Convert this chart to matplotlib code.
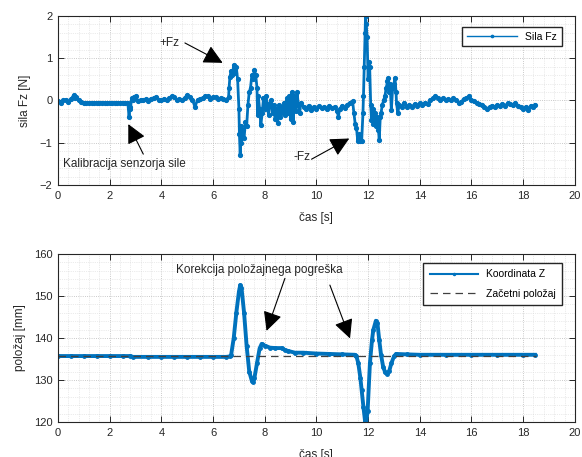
import matplotlib
matplotlib.use('Agg')
import matplotlib.pyplot as plt
import matplotlib.ticker as ticker

plt.rcParams['font.family'] = ['Liberation Sans', 'DejaVu Sans']

# sila Fz [N]
t_fz = [0.0, 0.1, 0.2, 0.3, 0.4, 0.5, 0.6, 0.65, 0.7, 0.8, 0.9, 1.0,
        1.1, 1.2, 1.3, 1.4, 1.5, 1.6, 1.7, 1.8, 1.9, 2.0, 2.1, 2.2, 2.3, 2.4, 2.5, 2.6, 2.7,
        2.75, 2.78, 2.8, 2.85, 2.9, 2.95, 3.0, 3.1, 3.2, 3.3, 3.4, 3.5, 3.6, 3.7, 3.8, 3.9,
        4.0, 4.1, 4.2, 4.3, 4.4, 4.5, 4.6, 4.7, 4.8, 4.9, 5.0, 5.1, 5.2, 5.3, 5.4, 5.5,
        5.6, 5.7, 5.8, 5.9, 6.0, 6.1, 6.2, 6.3, 6.4, 6.5, 6.6,
        6.62, 6.65, 6.7, 6.75, 6.8, 6.85, 6.9, 6.95, 7.0, 7.02, 7.05, 7.08, 7.1, 7.15, 7.2,
        7.25, 7.3, 7.35, 7.4, 7.45, 7.5, 7.55, 7.6, 7.65, 7.7, 7.72, 7.75, 7.8, 7.85, 7.9,
        7.95, 8.0, 8.05, 8.1, 8.15, 8.2, 8.25, 8.3, 8.35, 8.4, 8.45, 8.5, 8.55, 8.6, 8.65,
        8.7, 8.75, 8.8, 8.85, 8.9, 8.95, 9.0, 9.05, 9.1, 9.15, 9.2, 9.25, 9.3, 9.35, 9.4,
        9.5, 9.6, 9.7, 9.8, 9.9, 10.0, 10.1, 10.2, 10.3, 10.4, 10.5, 10.6, 10.7, 10.8,
        10.85, 10.9, 11.0, 11.1, 11.2, 11.3, 11.4, 11.45, 11.5, 11.55, 11.6, 11.65, 11.7,
        11.75, 11.8, 11.82, 11.85, 11.88, 11.9, 11.93, 11.96, 12.0, 12.03, 12.06, 12.1,
        12.13, 12.17, 12.2, 12.25, 12.3, 12.35, 12.4, 12.43, 12.47, 12.5, 12.55, 12.6,
        12.65, 12.7, 12.75, 12.78, 12.82, 12.85, 12.9, 12.95, 13.0, 13.04, 13.08, 13.1,
        13.15, 13.2, 13.3, 13.4, 13.5, 13.6, 13.7, 13.8, 13.9, 14.0, 14.1, 14.2, 14.3,
        14.4, 14.5, 14.6, 14.7, 14.8, 14.9, 15.0, 15.1, 15.2, 15.3, 15.4, 15.5, 15.6,
        15.7, 15.8, 15.9, 16.0, 16.1, 16.2, 16.3, 16.4, 16.5, 16.6, 16.7, 16.8, 16.9,
        17.0, 17.1, 17.2, 17.3, 17.4, 17.5, 17.6, 17.7, 17.8, 17.9, 18.0, 18.1, 18.2,
        18.3, 18.4, 18.45]
fz = [-0.02, -0.06, 0.0, 0.02, -0.04, 0.03, 0.12, 0.06, 0.08, 0.0, -0.03, -0.05,
      -0.05, -0.05, -0.05, -0.05, -0.05, -0.05, -0.05, -0.05, -0.05, -0.05, -0.05, -0.05,
      -0.05, -0.05, -0.05, -0.05, -0.05,
      -0.4, -0.15, -0.2, 0.05, 0.0, 0.08, 0.1, -0.02, 0.02, 0.0, 0.03, -0.01, 0.04, 0.06,
      0.07, 0.02, 0.0, 0.04, 0.0, 0.05, 0.1, 0.08, 0.0, 0.03, 0.0, 0.06, 0.13, 0.08, 0.02,
      -0.15, 0.02, 0.04, 0.06, 0.1, 0.1, 0.04, 0.08, 0.07, 0.03, 0.06, 0.04, 0.02, 0.07,
      0.3, 0.55, 0.7, 0.6, 0.84, 0.65, 0.78, 0.5, -0.2, -0.8, -1.29, -0.6, -1.0, -0.7, -0.9,
      -0.5, -0.6, -0.1, 0.2, 0.3, 0.6, 0.5, 0.72, 0.6, 0.3, -0.35, 0.1, -0.2, -0.58, -0.3,
      0.05, -0.2, 0.1, -0.15, -0.35, -0.05, 0.0, -0.3, -0.1, -0.45, -0.2, -0.54, -0.1,
      -0.4, -0.15, -0.3, -0.05, -0.35, 0.05, -0.3, 0.1, -0.45, 0.2, -0.5, 0.1, -0.25, 0.2,
      -0.1, -0.3, -0.05, -0.15, -0.2, -0.12, -0.22, -0.15, -0.2, -0.13, -0.18, -0.15,
      -0.2, -0.12, -0.18, -0.15, -0.25, -0.38, -0.2, -0.12, -0.18, -0.1, -0.05, -0.02,
      -0.3, -0.55, -0.65, -0.97, -0.8, -0.95, -0.97, -0.3, 0.1, 0.8, 1.6, 2.0, 1.8, 1.5,
      0.5, 0.9, 0.8, -0.1, -0.46, -0.2, -0.55, -0.3, -0.6, -0.4, -0.7, -0.93, -0.4, -0.3,
      -0.1, 0.0, 0.1, 0.3, 0.45, 0.53, 0.2, 0.4, -0.22, 0.3, 0.4, 0.53, 0.2, -0.07, -0.3,
      -0.1, -0.15, -0.05, -0.15, -0.1, -0.15, -0.08, -0.12, -0.07, -0.1, -0.05, -0.08,
      0.0, 0.05, 0.1, 0.05, 0.02, 0.05, 0.0, 0.03, 0.0, 0.05, 0.0, -0.05, -0.03, 0.03,
      0.05, 0.1, 0.0, -0.02, -0.05, -0.08, -0.1, -0.15, -0.2, -0.15, -0.12, -0.15, -0.1,
      -0.13, -0.08, -0.12, -0.07, -0.08, -0.1, -0.05, -0.12, -0.15, -0.2, -0.15, -0.22,
      -0.12, -0.15, -0.1]

# koordinata Z [mm]
t_z = [0.0, 0.5, 1.0, 1.5, 2.0, 2.5, 2.8, 2.9, 3.5, 4.0, 4.5, 5.0, 5.5, 6.0, 6.5, 6.65,
       6.7, 6.8, 6.9, 7.0, 7.05, 7.1, 7.2, 7.3, 7.4, 7.5, 7.55, 7.6, 7.7, 7.8, 7.88,
       8.0, 8.2, 8.4, 8.65, 8.8, 8.91, 9.17, 9.49, 10.0, 10.5, 11.0, 11.49, 11.55, 11.62,
       11.7, 11.75, 11.82, 11.88, 11.92, 11.98, 12.07, 12.15, 12.2, 12.3, 12.36, 12.43,
       12.5, 12.58, 12.66, 12.74, 12.82, 12.9, 13.0, 13.08, 13.5, 14.0, 15.0, 16.0, 17.0,
       18.0, 18.45]
z = [135.7, 135.7, 135.7, 135.7, 135.7, 135.7, 135.7, 135.5, 135.5, 135.5, 135.5, 135.5,
     135.5, 135.5, 135.5, 135.6,
     136.0, 140.0, 146.0, 151.0, 152.6, 152.0, 146.0, 138.0, 132.0, 129.8, 129.6, 130.5,
     134.0, 137.5, 138.6,
     138.2, 137.7, 137.6, 137.6, 137.1, 136.9, 136.5, 136.5, 136.3, 136.2, 136.1, 136.0,
     135.6, 134.0,
     130.5, 127.6, 123.5, 120.3, 119.8, 122.5, 134.0, 139.5, 141.9, 144.1, 143.6, 139.5,
     136.0, 133.2, 131.8, 131.4, 132.2, 134.0, 135.6, 136.2, 136.1, 136.0, 136.0, 136.0,
     136.0, 136.0, 136.0]
t_ref = [0.0, 18.5]
z_ref = [135.6, 135.6]

blue = '#0072BD'
dark = '#262626'

fig = plt.figure(figsize=(5.82, 4.57), dpi=100)
ax1 = fig.add_axes([0.0997, 0.5952, 0.888, 0.370])
ax2 = fig.add_axes([0.0997, 0.0766, 0.888, 0.3676])


def style(ax):
    ax.set_xlim(0, 20)
    ax.xaxis.set_major_locator(ticker.MultipleLocator(2))
    ax.xaxis.set_minor_locator(ticker.AutoMinorLocator(5))
    ax.yaxis.set_minor_locator(ticker.AutoMinorLocator(5))
    ax.grid(which='major', linestyle=':', linewidth=0.6, color='#b8b8b8')
    ax.grid(which='minor', linestyle=':', linewidth=0.5, color='#d8d8d8')
    ax.set_axisbelow(True)
    ax.tick_params(which='major', direction='in', length=4, width=0.7, top=True,
                   right=True, labelsize=8, colors=dark, pad=4)
    ax.tick_params(which='minor', length=0)
    for s in ax.spines.values():
        s.set_color(dark)
        s.set_linewidth(0.8)


style(ax1)
ax1.set_ylim(-2, 2)
ax1.yaxis.set_major_locator(ticker.MultipleLocator(1))
ax1.plot(t_fz, fz, color=blue, marker='.', markersize=5.5, linewidth=2.0,
         label='Sila Fz')
ax1.set_ylabel('sila Fz [N]', fontsize=8.5, color=dark, labelpad=6)
ax1.set_xlabel('čas [s]', fontsize=8.5, color=dark, labelpad=8)
leg1 = ax1.legend(loc='upper right', bbox_to_anchor=(0.975, 0.935), borderaxespad=0,
                  fontsize=7.5, handlelength=4.8, numpoints=1, fancybox=False,
                  framealpha=1, edgecolor=dark, borderpad=0.45, markerscale=0.6)
leg1.get_lines()[0].set_linewidth(1.0)

arrow = dict(arrowstyle='-|>,head_length=0.9,head_width=0.45', color='k', lw=0.8,
             mutation_scale=13, shrinkA=0, shrinkB=0)
ax1.annotate('', xy=(6.37, 0.89), xytext=(4.91, 1.36), arrowprops=arrow)
ax1.text(4.3, 1.36, '+Fz', fontsize=8.5, ha='center', va='center', color=dark)
ax1.annotate('', xy=(2.72, -0.56), xytext=(3.30, -1.27), arrowprops=arrow)
ax1.text(0.2, -1.5, 'Kalibracija senzorja sile', fontsize=8.5, ha='left', va='center',
         color=dark)
ax1.annotate('', xy=(11.27, -0.9), xytext=(9.81, -1.39), arrowprops=arrow)
ax1.text(9.45, -1.33, '-Fz', fontsize=8.5, ha='center', va='center', color=dark)

style(ax2)
ax2.set_ylim(120, 160)
ax2.yaxis.set_major_locator(ticker.MultipleLocator(10))
ax2.plot(t_z, z, color=blue, marker='.', markersize=5, linewidth=2.8,
         label='Koordinata Z')
ax2.plot(t_ref, z_ref, color='#404040', linestyle=(0, (6, 4)), linewidth=0.9,
         label='Začetni položaj')
ax2.set_ylabel('položaj [mm]', fontsize=8.5, color=dark, labelpad=6)
ax2.set_xlabel('čas [s]', fontsize=8.5, color=dark, labelpad=8)
leg2 = ax2.legend(loc='upper right', bbox_to_anchor=(0.975, 0.946), borderaxespad=0,
                  fontsize=7.5, handlelength=4.6, numpoints=1, fancybox=False,
                  framealpha=1, edgecolor=dark, borderpad=0.6, labelspacing=0.9,
                  markerscale=0.6)
leg2.get_lines()[0].set_linewidth(1.5)
ax2.text(7.78, 156.2, 'Korekcija položajnega pogreška', fontsize=8.5, ha='center',
         va='center', color=dark)
ax2.annotate('', xy=(8.07, 141.7), xytext=(8.78, 154.2), arrowprops=arrow)
ax2.annotate('', xy=(11.3, 139.9), xytext=(10.52, 152.6), arrowprops=arrow)

fig.savefig('out.png', dpi=100)
